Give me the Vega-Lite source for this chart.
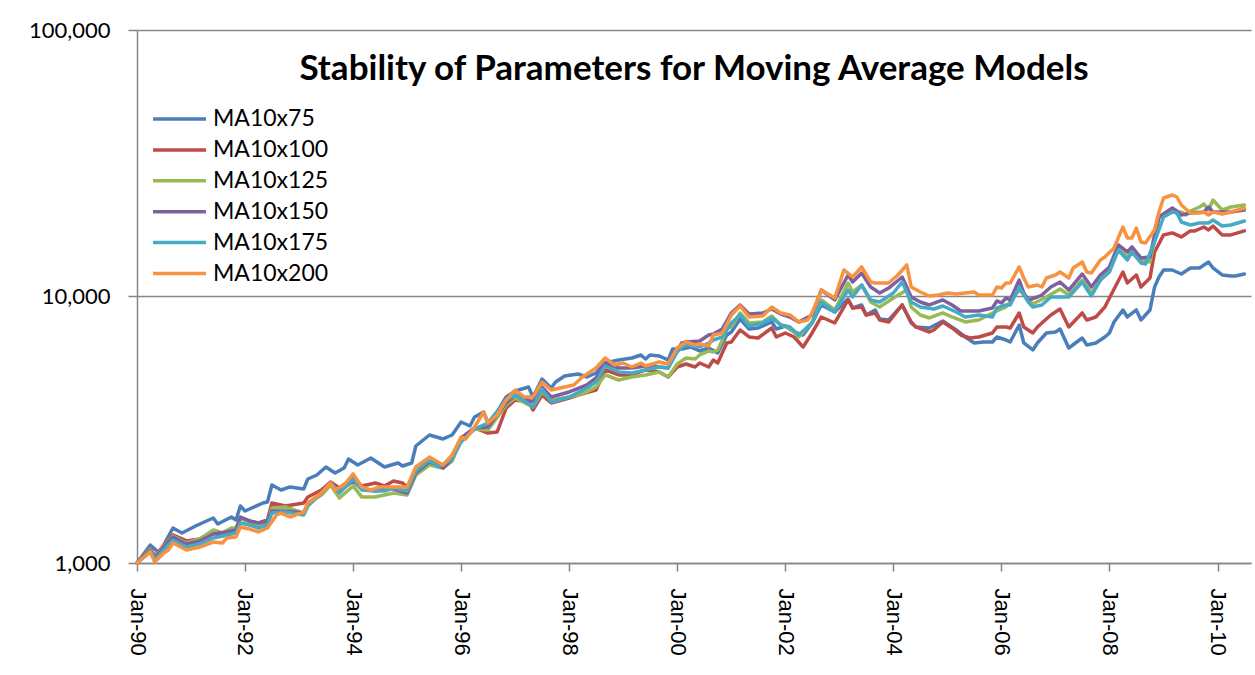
{
"$schema": "https://vega.github.io/schema/vega-lite/v6.json",
"width": 1114, "height": 533,
"autosize": {"type": "none"},
"padding": {"left": 137, "top": 30, "right": 4, "bottom": 112},
"background": "white",
"title": {"text": "Stability of Parameters for Moving Average Models", "font": "Lato", "fontSize": 35, "fontWeight": "bold", "color": "black", "anchor": "middle", "frame": "group", "offset": -96, "baseline": "alphabetic"},
"config": {"view": {"stroke": null}},
"data": {"values": [
{"s":"MA10x75","d":"1990-01","v":1000},{"s":"MA10x75","d":"1990-04","v":1168},{"s":"MA10x75","d":"1990-06","v":1090},{"s":"MA10x75","d":"1990-09","v":1353},{"s":"MA10x75","d":"1990-11","v":1296},{"s":"MA10x75","d":"1991-02","v":1377},{"s":"MA10x75","d":"1991-04","v":1425},{"s":"MA10x75","d":"1991-06","v":1475},{"s":"MA10x75","d":"1991-07","v":1401},{"s":"MA10x75","d":"1991-10","v":1488},{"s":"MA10x75","d":"1991-11","v":1450},{"s":"MA10x75","d":"1991-12","v":1636},{"s":"MA10x75","d":"1992-01","v":1567},{"s":"MA10x75","d":"1992-05","v":1679},{"s":"MA10x75","d":"1992-06","v":1694},{"s":"MA10x75","d":"1992-07","v":1962},{"s":"MA10x75","d":"1992-09","v":1879},{"s":"MA10x75","d":"1992-11","v":1929},{"s":"MA10x75","d":"1993-02","v":1896},{"s":"MA10x75","d":"1993-03","v":2066},{"s":"MA10x75","d":"1993-05","v":2139},{"s":"MA10x75","d":"1993-07","v":2292},{"s":"MA10x75","d":"1993-09","v":2176},{"s":"MA10x75","d":"1993-11","v":2272},{"s":"MA10x75","d":"1993-12","v":2455},{"s":"MA10x75","d":"1994-02","v":2332},{"s":"MA10x75","d":"1994-05","v":2477},{"s":"MA10x75","d":"1994-08","v":2292},{"s":"MA10x75","d":"1994-11","v":2372},{"s":"MA10x75","d":"1994-12","v":2312},{"s":"MA10x75","d":"1995-02","v":2372},{"s":"MA10x75","d":"1995-03","v":2748},{"s":"MA10x75","d":"1995-06","v":3022},{"s":"MA10x75","d":"1995-09","v":2920},{"s":"MA10x75","d":"1995-11","v":3022},{"s":"MA10x75","d":"1996-01","v":3381},{"s":"MA10x75","d":"1996-03","v":3267},{"s":"MA10x75","d":"1996-04","v":3530},{"s":"MA10x75","d":"1996-06","v":3687},{"s":"MA10x75","d":"1996-07","v":3352},{"s":"MA10x75","d":"1996-09","v":3687},{"s":"MA10x75","d":"1996-11","v":4197},{"s":"MA10x75","d":"1997-01","v":4420},{"s":"MA10x75","d":"1997-04","v":4575},{"s":"MA10x75","d":"1997-05","v":4197},{"s":"MA10x75","d":"1997-07","v":4903},{"s":"MA10x75","d":"1997-09","v":4536},{"s":"MA10x75","d":"1997-10","v":4777},{"s":"MA10x75","d":"1997-12","v":5032},{"s":"MA10x75","d":"1998-03","v":5120},{"s":"MA10x75","d":"1998-05","v":4989},{"s":"MA10x75","d":"1998-07","v":5164},{"s":"MA10x75","d":"1998-09","v":5630},{"s":"MA10x75","d":"1998-12","v":5778},{"s":"MA10x75","d":"1999-03","v":5879},{"s":"MA10x75","d":"1999-05","v":6034},{"s":"MA10x75","d":"1999-06","v":5828},{"s":"MA10x75","d":"1999-07","v":6034},{"s":"MA10x75","d":"1999-09","v":5982},{"s":"MA10x75","d":"1999-11","v":5778},{"s":"MA10x75","d":"1999-12","v":6354},{"s":"MA10x75","d":"2000-02","v":6354},{"s":"MA10x75","d":"2000-04","v":6465},{"s":"MA10x75","d":"2000-06","v":6245},{"s":"MA10x75","d":"2000-08","v":6409},{"s":"MA10x75","d":"2000-10","v":6138},{"s":"MA10x75","d":"2000-12","v":7172},{"s":"MA10x75","d":"2001-01","v":7359},{"s":"MA10x75","d":"2001-03","v":8234},{"s":"MA10x75","d":"2001-05","v":7553},{"s":"MA10x75","d":"2001-07","v":7619},{"s":"MA10x75","d":"2001-10","v":8024},{"s":"MA10x75","d":"2001-11","v":7553},{"s":"MA10x75","d":"2002-01","v":7752},{"s":"MA10x75","d":"2002-03","v":7359},{"s":"MA10x75","d":"2002-05","v":7172},{"s":"MA10x75","d":"2002-07","v":7955},{"s":"MA10x75","d":"2002-09","v":9294},{"s":"MA10x75","d":"2002-12","v":8748},{"s":"MA10x75","d":"2003-03","v":9786},{"s":"MA10x75","d":"2003-04","v":9056},{"s":"MA10x75","d":"2003-06","v":9294},{"s":"MA10x75","d":"2003-07","v":8524},{"s":"MA10x75","d":"2003-09","v":8901},{"s":"MA10x75","d":"2003-10","v":8234},{"s":"MA10x75","d":"2003-12","v":8164},{"s":"MA10x75","d":"2004-03","v":9294},{"s":"MA10x75","d":"2004-05","v":7955},{"s":"MA10x75","d":"2004-06","v":7685},{"s":"MA10x75","d":"2004-09","v":7619},{"s":"MA10x75","d":"2004-12","v":8094},{"s":"MA10x75","d":"2005-03","v":7488},{"s":"MA10x75","d":"2005-05","v":7049},{"s":"MA10x75","d":"2005-07","v":6692},{"s":"MA10x75","d":"2005-09","v":6750},{"s":"MA10x75","d":"2005-11","v":6750},{"s":"MA10x75","d":"2005-12","v":7049},{"s":"MA10x75","d":"2006-02","v":6868},{"s":"MA10x75","d":"2006-03","v":6750},{"s":"MA10x75","d":"2006-05","v":7819},{"s":"MA10x75","d":"2006-06","v":6692},{"s":"MA10x75","d":"2006-08","v":6300},{"s":"MA10x75","d":"2006-09","v":6692},{"s":"MA10x75","d":"2006-11","v":7296},{"s":"MA10x75","d":"2007-01","v":7359},{"s":"MA10x75","d":"2007-02","v":7553},{"s":"MA10x75","d":"2007-04","v":6409},{"s":"MA10x75","d":"2007-07","v":6988},{"s":"MA10x75","d":"2007-08","v":6578},{"s":"MA10x75","d":"2007-10","v":6692},{"s":"MA10x75","d":"2007-12","v":7049},{"s":"MA10x75","d":"2008-01","v":7296},{"s":"MA10x75","d":"2008-02","v":8024},{"s":"MA10x75","d":"2008-04","v":8901},{"s":"MA10x75","d":"2008-05","v":8378},{"s":"MA10x75","d":"2008-07","v":8901},{"s":"MA10x75","d":"2008-08","v":8164},{"s":"MA10x75","d":"2008-10","v":8901},{"s":"MA10x75","d":"2008-11","v":10854},{"s":"MA10x75","d":"2008-12","v":11836},{"s":"MA10x75","d":"2009-01","v":12575},{"s":"MA10x75","d":"2009-03","v":12575},{"s":"MA10x75","d":"2009-05","v":12147},{"s":"MA10x75","d":"2009-07","v":12795},{"s":"MA10x75","d":"2009-09","v":12795},{"s":"MA10x75","d":"2009-10","v":13131},{"s":"MA10x75","d":"2009-11","v":13477},{"s":"MA10x75","d":"2009-12","v":12795},{"s":"MA10x75","d":"2010-02","v":12043},{"s":"MA10x75","d":"2010-04","v":11937},{"s":"MA10x75","d":"2010-05","v":11937},{"s":"MA10x75","d":"2010-07","v":12147},
{"s":"MA10x100","d":"1990-01","v":1000},{"s":"MA10x100","d":"1990-04","v":1138},{"s":"MA10x100","d":"1990-05","v":1062},{"s":"MA10x100","d":"1990-09","v":1274},{"s":"MA10x100","d":"1990-12","v":1210},{"s":"MA10x100","d":"1991-03","v":1231},{"s":"MA10x100","d":"1991-06","v":1296},{"s":"MA10x100","d":"1991-08","v":1263},{"s":"MA10x100","d":"1991-10","v":1330},{"s":"MA10x100","d":"1991-11","v":1330},{"s":"MA10x100","d":"1991-12","v":1475},{"s":"MA10x100","d":"1992-02","v":1438},{"s":"MA10x100","d":"1992-04","v":1413},{"s":"MA10x100","d":"1992-06","v":1450},{"s":"MA10x100","d":"1992-07","v":1679},{"s":"MA10x100","d":"1992-10","v":1636},{"s":"MA10x100","d":"1993-02","v":1679},{"s":"MA10x100","d":"1993-03","v":1768},{"s":"MA10x100","d":"1993-06","v":1879},{"s":"MA10x100","d":"1993-08","v":2013},{"s":"MA10x100","d":"1993-10","v":1912},{"s":"MA10x100","d":"1994-01","v":2084},{"s":"MA10x100","d":"1994-03","v":1946},{"s":"MA10x100","d":"1994-06","v":1996},{"s":"MA10x100","d":"1994-08","v":1946},{"s":"MA10x100","d":"1994-10","v":2031},{"s":"MA10x100","d":"1994-12","v":1996},{"s":"MA10x100","d":"1995-01","v":1929},{"s":"MA10x100","d":"1995-03","v":2233},{"s":"MA10x100","d":"1995-06","v":2455},{"s":"MA10x100","d":"1995-09","v":2312},{"s":"MA10x100","d":"1995-11","v":2498},{"s":"MA10x100","d":"1996-01","v":2920},{"s":"MA10x100","d":"1996-04","v":3211},{"s":"MA10x100","d":"1996-07","v":3075},{"s":"MA10x100","d":"1996-09","v":3102},{"s":"MA10x100","d":"1996-11","v":3816},{"s":"MA10x100","d":"1997-01","v":4090},{"s":"MA10x100","d":"1997-04","v":4020},{"s":"MA10x100","d":"1997-05","v":3751},{"s":"MA10x100","d":"1997-07","v":4270},{"s":"MA10x100","d":"1997-09","v":3985},{"s":"MA10x100","d":"1998-01","v":4161},{"s":"MA10x100","d":"1998-03","v":4270},{"s":"MA10x100","d":"1998-07","v":4458},{"s":"MA10x100","d":"1998-09","v":5300},{"s":"MA10x100","d":"1998-12","v":5076},{"s":"MA10x100","d":"1999-03","v":5076},{"s":"MA10x100","d":"1999-06","v":5300},{"s":"MA10x100","d":"1999-09","v":5209},{"s":"MA10x100","d":"1999-11","v":4989},{"s":"MA10x100","d":"2000-01","v":5439},{"s":"MA10x100","d":"2000-03","v":5582},{"s":"MA10x100","d":"2000-05","v":5439},{"s":"MA10x100","d":"2000-06","v":5630},{"s":"MA10x100","d":"2000-08","v":5439},{"s":"MA10x100","d":"2000-09","v":5778},{"s":"MA10x100","d":"2000-10","v":5630},{"s":"MA10x100","d":"2000-12","v":6692},{"s":"MA10x100","d":"2001-01","v":6750},{"s":"MA10x100","d":"2001-03","v":7488},{"s":"MA10x100","d":"2001-05","v":7049},{"s":"MA10x100","d":"2001-07","v":6988},{"s":"MA10x100","d":"2001-10","v":7619},{"s":"MA10x100","d":"2001-11","v":7049},{"s":"MA10x100","d":"2002-01","v":7296},{"s":"MA10x100","d":"2002-03","v":7049},{"s":"MA10x100","d":"2002-05","v":6465},{"s":"MA10x100","d":"2002-07","v":7296},{"s":"MA10x100","d":"2002-09","v":8378},{"s":"MA10x100","d":"2002-12","v":7955},{"s":"MA10x100","d":"2003-03","v":9705},{"s":"MA10x100","d":"2003-04","v":9056},{"s":"MA10x100","d":"2003-06","v":9135},{"s":"MA10x100","d":"2003-07","v":8524},{"s":"MA10x100","d":"2003-09","v":8673},{"s":"MA10x100","d":"2003-10","v":8164},{"s":"MA10x100","d":"2003-12","v":8024},{"s":"MA10x100","d":"2004-03","v":9294},{"s":"MA10x100","d":"2004-05","v":8024},{"s":"MA10x100","d":"2004-06","v":7685},{"s":"MA10x100","d":"2004-09","v":7359},{"s":"MA10x100","d":"2004-10","v":7488},{"s":"MA10x100","d":"2004-12","v":8024},{"s":"MA10x100","d":"2005-02","v":7619},{"s":"MA10x100","d":"2005-04","v":7172},{"s":"MA10x100","d":"2005-06","v":6988},{"s":"MA10x100","d":"2005-08","v":7049},{"s":"MA10x100","d":"2005-11","v":7296},{"s":"MA10x100","d":"2005-12","v":7685},{"s":"MA10x100","d":"2006-02","v":7685},{"s":"MA10x100","d":"2006-03","v":7619},{"s":"MA10x100","d":"2006-05","v":8673},{"s":"MA10x100","d":"2006-06","v":7685},{"s":"MA10x100","d":"2006-08","v":7296},{"s":"MA10x100","d":"2006-09","v":7685},{"s":"MA10x100","d":"2006-12","v":8524},{"s":"MA10x100","d":"2007-02","v":8978},{"s":"MA10x100","d":"2007-04","v":7685},{"s":"MA10x100","d":"2007-07","v":8673},{"s":"MA10x100","d":"2007-08","v":8164},{"s":"MA10x100","d":"2007-10","v":8378},{"s":"MA10x100","d":"2007-12","v":9135},{"s":"MA10x100","d":"2008-01","v":9871},{"s":"MA10x100","d":"2008-04","v":12359},{"s":"MA10x100","d":"2008-05","v":11237},{"s":"MA10x100","d":"2008-07","v":12043},{"s":"MA10x100","d":"2008-08","v":10854},{"s":"MA10x100","d":"2008-10","v":11734},{"s":"MA10x100","d":"2008-11","v":14695},{"s":"MA10x100","d":"2009-01","v":17024},{"s":"MA10x100","d":"2009-03","v":17322},{"s":"MA10x100","d":"2009-05","v":16732},{"s":"MA10x100","d":"2009-07","v":17625},{"s":"MA10x100","d":"2009-08","v":17625},{"s":"MA10x100","d":"2009-10","v":18229},{"s":"MA10x100","d":"2009-11","v":17777},{"s":"MA10x100","d":"2009-12","v":18386},{"s":"MA10x100","d":"2010-02","v":17024},{"s":"MA10x100","d":"2010-04","v":17024},{"s":"MA10x100","d":"2010-07","v":17625},
{"s":"MA10x125","d":"1990-01","v":1000},{"s":"MA10x125","d":"1990-04","v":1128},{"s":"MA10x125","d":"1990-05","v":1053},{"s":"MA10x125","d":"1990-09","v":1263},{"s":"MA10x125","d":"1990-12","v":1189},{"s":"MA10x125","d":"1991-03","v":1231},{"s":"MA10x125","d":"1991-06","v":1330},{"s":"MA10x125","d":"1991-08","v":1296},{"s":"MA10x125","d":"1991-10","v":1353},{"s":"MA10x125","d":"1991-11","v":1353},{"s":"MA10x125","d":"1991-12","v":1475},{"s":"MA10x125","d":"1992-02","v":1413},{"s":"MA10x125","d":"1992-04","v":1389},{"s":"MA10x125","d":"1992-06","v":1413},{"s":"MA10x125","d":"1992-07","v":1608},{"s":"MA10x125","d":"1992-10","v":1622},{"s":"MA10x125","d":"1993-02","v":1540},{"s":"MA10x125","d":"1993-03","v":1679},{"s":"MA10x125","d":"1993-06","v":1799},{"s":"MA10x125","d":"1993-08","v":1962},{"s":"MA10x125","d":"1993-10","v":1753},{"s":"MA10x125","d":"1994-01","v":1946},{"s":"MA10x125","d":"1994-03","v":1768},{"s":"MA10x125","d":"1994-06","v":1768},{"s":"MA10x125","d":"1994-08","v":1799},{"s":"MA10x125","d":"1994-10","v":1831},{"s":"MA10x125","d":"1995-01","v":1799},{"s":"MA10x125","d":"1995-03","v":2139},{"s":"MA10x125","d":"1995-06","v":2332},{"s":"MA10x125","d":"1995-09","v":2272},{"s":"MA10x125","d":"1995-11","v":2414},{"s":"MA10x125","d":"1996-01","v":2920},{"s":"MA10x125","d":"1996-04","v":3183},{"s":"MA10x125","d":"1996-07","v":3155},{"s":"MA10x125","d":"1996-11","v":3916},{"s":"MA10x125","d":"1997-01","v":4161},{"s":"MA10x125","d":"1997-05","v":3849},{"s":"MA10x125","d":"1997-07","v":4382},{"s":"MA10x125","d":"1997-09","v":4090},{"s":"MA10x125","d":"1998-01","v":4197},{"s":"MA10x125","d":"1998-05","v":4382},{"s":"MA10x125","d":"1998-07","v":4575},{"s":"MA10x125","d":"1998-09","v":5076},{"s":"MA10x125","d":"1998-12","v":4861},{"s":"MA10x125","d":"1999-03","v":4989},{"s":"MA10x125","d":"1999-06","v":5076},{"s":"MA10x125","d":"1999-09","v":5209},{"s":"MA10x125","d":"1999-11","v":4989},{"s":"MA10x125","d":"2000-01","v":5582},{"s":"MA10x125","d":"2000-03","v":5879},{"s":"MA10x125","d":"2000-05","v":5828},{"s":"MA10x125","d":"2000-06","v":6034},{"s":"MA10x125","d":"2000-08","v":6245},{"s":"MA10x125","d":"2000-09","v":6191},{"s":"MA10x125","d":"2000-10","v":6300},{"s":"MA10x125","d":"2000-11","v":6868},{"s":"MA10x125","d":"2000-12","v":7619},{"s":"MA10x125","d":"2001-01","v":7685},{"s":"MA10x125","d":"2001-03","v":8673},{"s":"MA10x125","d":"2001-05","v":7955},{"s":"MA10x125","d":"2001-08","v":8024},{"s":"MA10x125","d":"2001-10","v":8451},{"s":"MA10x125","d":"2001-12","v":7819},{"s":"MA10x125","d":"2002-02","v":7619},{"s":"MA10x125","d":"2002-04","v":7049},{"s":"MA10x125","d":"2002-07","v":8024},{"s":"MA10x125","d":"2002-09","v":9705},{"s":"MA10x125","d":"2002-12","v":8901},{"s":"MA10x125","d":"2003-03","v":11237},{"s":"MA10x125","d":"2003-04","v":10397},{"s":"MA10x125","d":"2003-06","v":11043},{"s":"MA10x125","d":"2003-08","v":9538},{"s":"MA10x125","d":"2003-10","v":9135},{"s":"MA10x125","d":"2004-01","v":9871},{"s":"MA10x125","d":"2004-04","v":10575},{"s":"MA10x125","d":"2004-05","v":9135},{"s":"MA10x125","d":"2004-07","v":8524},{"s":"MA10x125","d":"2004-09","v":8306},{"s":"MA10x125","d":"2004-12","v":8673},{"s":"MA10x125","d":"2005-02","v":8378},{"s":"MA10x125","d":"2005-05","v":8024},{"s":"MA10x125","d":"2005-08","v":8164},{"s":"MA10x125","d":"2005-11","v":8673},{"s":"MA10x125","d":"2006-02","v":9135},{"s":"MA10x125","d":"2006-05","v":10575},{"s":"MA10x125","d":"2006-08","v":9375},{"s":"MA10x125","d":"2006-11","v":9957},{"s":"MA10x125","d":"2007-02","v":10667},{"s":"MA10x125","d":"2007-04","v":10131},{"s":"MA10x125","d":"2007-07","v":11533},{"s":"MA10x125","d":"2007-09","v":10307},{"s":"MA10x125","d":"2007-11","v":11533},{"s":"MA10x125","d":"2008-01","v":12575},{"s":"MA10x125","d":"2008-03","v":15213},{"s":"MA10x125","d":"2008-05","v":14072},{"s":"MA10x125","d":"2008-06","v":15213},{"s":"MA10x125","d":"2008-08","v":13712},{"s":"MA10x125","d":"2008-10","v":13477},{"s":"MA10x125","d":"2008-11","v":16303},{"s":"MA10x125","d":"2008-12","v":19705},{"s":"MA10x125","d":"2009-03","v":20753},{"s":"MA10x125","d":"2009-05","v":20753},{"s":"MA10x125","d":"2009-06","v":20220},{"s":"MA10x125","d":"2009-07","v":20934},{"s":"MA10x125","d":"2009-09","v":21669},{"s":"MA10x125","d":"2009-10","v":22238},{"s":"MA10x125","d":"2009-11","v":21115},{"s":"MA10x125","d":"2009-12","v":23021},{"s":"MA10x125","d":"2010-02","v":21115},{"s":"MA10x125","d":"2010-04","v":21669},{"s":"MA10x125","d":"2010-07","v":22047},
{"s":"MA10x150","d":"1990-01","v":1000},{"s":"MA10x150","d":"1990-04","v":1119},{"s":"MA10x150","d":"1990-05","v":1044},{"s":"MA10x150","d":"1990-09","v":1252},{"s":"MA10x150","d":"1990-12","v":1179},{"s":"MA10x150","d":"1991-03","v":1210},{"s":"MA10x150","d":"1991-06","v":1285},{"s":"MA10x150","d":"1991-10","v":1318},{"s":"MA10x150","d":"1991-11","v":1330},{"s":"MA10x150","d":"1991-12","v":1488},{"s":"MA10x150","d":"1992-02","v":1438},{"s":"MA10x150","d":"1992-04","v":1413},{"s":"MA10x150","d":"1992-06","v":1438},{"s":"MA10x150","d":"1992-07","v":1567},{"s":"MA10x150","d":"1992-10","v":1567},{"s":"MA10x150","d":"1993-02","v":1540},{"s":"MA10x150","d":"1993-03","v":1650},{"s":"MA10x150","d":"1993-06","v":1831},{"s":"MA10x150","d":"1993-08","v":1996},{"s":"MA10x150","d":"1993-10","v":1863},{"s":"MA10x150","d":"1994-01","v":2031},{"s":"MA10x150","d":"1994-03","v":1896},{"s":"MA10x150","d":"1994-06","v":1863},{"s":"MA10x150","d":"1994-08","v":1912},{"s":"MA10x150","d":"1994-10","v":1896},{"s":"MA10x150","d":"1995-01","v":1831},{"s":"MA10x150","d":"1995-03","v":2176},{"s":"MA10x150","d":"1995-06","v":2393},{"s":"MA10x150","d":"1995-09","v":2272},{"s":"MA10x150","d":"1995-11","v":2455},{"s":"MA10x150","d":"1996-01","v":2945},{"s":"MA10x150","d":"1996-04","v":3211},{"s":"MA10x150","d":"1996-07","v":3239},{"s":"MA10x150","d":"1996-11","v":3985},{"s":"MA10x150","d":"1997-01","v":4270},{"s":"MA10x150","d":"1997-05","v":4020},{"s":"MA10x150","d":"1997-07","v":4575},{"s":"MA10x150","d":"1997-09","v":4197},{"s":"MA10x150","d":"1998-01","v":4382},{"s":"MA10x150","d":"1998-05","v":4655},{"s":"MA10x150","d":"1998-07","v":4946},{"s":"MA10x150","d":"1998-09","v":5630},{"s":"MA10x150","d":"1998-12","v":5392},{"s":"MA10x150","d":"1999-03","v":5392},{"s":"MA10x150","d":"1999-06","v":5486},{"s":"MA10x150","d":"1999-09","v":5439},{"s":"MA10x150","d":"1999-11","v":5392},{"s":"MA10x150","d":"2000-01","v":6300},{"s":"MA10x150","d":"2000-02","v":6692},{"s":"MA10x150","d":"2000-03","v":6750},{"s":"MA10x150","d":"2000-06","v":6809},{"s":"MA10x150","d":"2000-08","v":7172},{"s":"MA10x150","d":"2000-09","v":7233},{"s":"MA10x150","d":"2000-11","v":7553},{"s":"MA10x150","d":"2001-01","v":8673},{"s":"MA10x150","d":"2001-03","v":9294},{"s":"MA10x150","d":"2001-05","v":8598},{"s":"MA10x150","d":"2001-08","v":8673},{"s":"MA10x150","d":"2001-10","v":8978},{"s":"MA10x150","d":"2001-12","v":8598},{"s":"MA10x150","d":"2002-02","v":8378},{"s":"MA10x150","d":"2002-04","v":8024},{"s":"MA10x150","d":"2002-07","v":8524},{"s":"MA10x150","d":"2002-09","v":10575},{"s":"MA10x150","d":"2002-12","v":9705},{"s":"MA10x150","d":"2003-03","v":12043},{"s":"MA10x150","d":"2003-04","v":11335},{"s":"MA10x150","d":"2003-06","v":12253},{"s":"MA10x150","d":"2003-08","v":10854},{"s":"MA10x150","d":"2003-10","v":10307},{"s":"MA10x150","d":"2003-12","v":10760},{"s":"MA10x150","d":"2004-03","v":11836},{"s":"MA10x150","d":"2004-05","v":9957},{"s":"MA10x150","d":"2004-07","v":9538},{"s":"MA10x150","d":"2004-09","v":9294},{"s":"MA10x150","d":"2004-12","v":9705},{"s":"MA10x150","d":"2005-02","v":9294},{"s":"MA10x150","d":"2005-04","v":8825},{"s":"MA10x150","d":"2005-06","v":8825},{"s":"MA10x150","d":"2005-08","v":8825},{"s":"MA10x150","d":"2005-11","v":9056},{"s":"MA10x150","d":"2005-12","v":9621},{"s":"MA10x150","d":"2006-01","v":9456},{"s":"MA10x150","d":"2006-02","v":9871},{"s":"MA10x150","d":"2006-03","v":9705},{"s":"MA10x150","d":"2006-05","v":11533},{"s":"MA10x150","d":"2006-06","v":10307},{"s":"MA10x150","d":"2006-07","v":9705},{"s":"MA10x150","d":"2006-09","v":9957},{"s":"MA10x150","d":"2006-10","v":10131},{"s":"MA10x150","d":"2006-12","v":10854},{"s":"MA10x150","d":"2007-02","v":11335},{"s":"MA10x150","d":"2007-04","v":10575},{"s":"MA10x150","d":"2007-07","v":12147},{"s":"MA10x150","d":"2007-09","v":10854},{"s":"MA10x150","d":"2007-11","v":12043},{"s":"MA10x150","d":"2008-01","v":12906},{"s":"MA10x150","d":"2008-03","v":15613},{"s":"MA10x150","d":"2008-05","v":14695},{"s":"MA10x150","d":"2008-06","v":15345},{"s":"MA10x150","d":"2008-08","v":13951},{"s":"MA10x150","d":"2008-10","v":14072},{"s":"MA10x150","d":"2008-11","v":17024},{"s":"MA10x150","d":"2008-12","v":19876},{"s":"MA10x150","d":"2009-03","v":21482},{"s":"MA10x150","d":"2009-04","v":20934},{"s":"MA10x150","d":"2009-05","v":20220},{"s":"MA10x150","d":"2009-07","v":20574},{"s":"MA10x150","d":"2009-10","v":20753},{"s":"MA10x150","d":"2009-11","v":21669},{"s":"MA10x150","d":"2009-12","v":20753},{"s":"MA10x150","d":"2010-04","v":20753},{"s":"MA10x150","d":"2010-07","v":21115},
{"s":"MA10x175","d":"1990-01","v":1000},{"s":"MA10x175","d":"1990-04","v":1109},{"s":"MA10x175","d":"1990-05","v":1026},{"s":"MA10x175","d":"1990-09","v":1220},{"s":"MA10x175","d":"1990-12","v":1148},{"s":"MA10x175","d":"1991-03","v":1179},{"s":"MA10x175","d":"1991-06","v":1241},{"s":"MA10x175","d":"1991-10","v":1285},{"s":"MA10x175","d":"1991-11","v":1296},{"s":"MA10x175","d":"1991-12","v":1413},{"s":"MA10x175","d":"1992-02","v":1389},{"s":"MA10x175","d":"1992-04","v":1353},{"s":"MA10x175","d":"1992-06","v":1389},{"s":"MA10x175","d":"1992-07","v":1540},{"s":"MA10x175","d":"1992-10","v":1553},{"s":"MA10x175","d":"1993-02","v":1514},{"s":"MA10x175","d":"1993-03","v":1636},{"s":"MA10x175","d":"1993-06","v":1831},{"s":"MA10x175","d":"1993-08","v":1996},{"s":"MA10x175","d":"1993-10","v":1831},{"s":"MA10x175","d":"1994-01","v":2066},{"s":"MA10x175","d":"1994-03","v":1879},{"s":"MA10x175","d":"1994-06","v":1863},{"s":"MA10x175","d":"1994-08","v":1863},{"s":"MA10x175","d":"1994-10","v":1912},{"s":"MA10x175","d":"1995-01","v":1863},{"s":"MA10x175","d":"1995-03","v":2214},{"s":"MA10x175","d":"1995-06","v":2434},{"s":"MA10x175","d":"1995-08","v":2292},{"s":"MA10x175","d":"1995-11","v":2455},{"s":"MA10x175","d":"1996-01","v":2845},{"s":"MA10x175","d":"1996-04","v":3183},{"s":"MA10x175","d":"1996-07","v":3352},{"s":"MA10x175","d":"1996-11","v":4090},{"s":"MA10x175","d":"1997-01","v":4270},{"s":"MA10x175","d":"1997-05","v":3849},{"s":"MA10x175","d":"1997-07","v":4497},{"s":"MA10x175","d":"1997-09","v":4020},{"s":"MA10x175","d":"1998-01","v":4197},{"s":"MA10x175","d":"1998-05","v":4536},{"s":"MA10x175","d":"1998-07","v":4777},{"s":"MA10x175","d":"1998-09","v":5486},{"s":"MA10x175","d":"1998-12","v":5209},{"s":"MA10x175","d":"1999-03","v":5164},{"s":"MA10x175","d":"1999-06","v":5300},{"s":"MA10x175","d":"1999-09","v":5439},{"s":"MA10x175","d":"1999-11","v":5392},{"s":"MA10x175","d":"2000-01","v":6191},{"s":"MA10x175","d":"2000-02","v":6465},{"s":"MA10x175","d":"2000-03","v":6578},{"s":"MA10x175","d":"2000-06","v":6465},{"s":"MA10x175","d":"2000-08","v":6692},{"s":"MA10x175","d":"2000-09","v":6868},{"s":"MA10x175","d":"2000-11","v":7049},{"s":"MA10x175","d":"2001-01","v":7955},{"s":"MA10x175","d":"2001-03","v":8524},{"s":"MA10x175","d":"2001-05","v":7752},{"s":"MA10x175","d":"2001-08","v":7955},{"s":"MA10x175","d":"2001-10","v":8306},{"s":"MA10x175","d":"2001-12","v":7819},{"s":"MA10x175","d":"2002-02","v":7685},{"s":"MA10x175","d":"2002-04","v":7172},{"s":"MA10x175","d":"2002-07","v":7955},{"s":"MA10x175","d":"2002-09","v":9538},{"s":"MA10x175","d":"2002-12","v":8748},{"s":"MA10x175","d":"2003-03","v":10575},{"s":"MA10x175","d":"2003-04","v":9957},{"s":"MA10x175","d":"2003-06","v":11043},{"s":"MA10x175","d":"2003-08","v":9705},{"s":"MA10x175","d":"2003-10","v":9538},{"s":"MA10x175","d":"2004-01","v":10307},{"s":"MA10x175","d":"2004-03","v":11335},{"s":"MA10x175","d":"2004-05","v":9538},{"s":"MA10x175","d":"2004-07","v":9135},{"s":"MA10x175","d":"2004-10","v":8978},{"s":"MA10x175","d":"2004-12","v":9214},{"s":"MA10x175","d":"2005-03","v":8748},{"s":"MA10x175","d":"2005-05","v":8378},{"s":"MA10x175","d":"2005-08","v":8524},{"s":"MA10x175","d":"2005-11","v":8378},{"s":"MA10x175","d":"2005-12","v":9056},{"s":"MA10x175","d":"2006-02","v":9294},{"s":"MA10x175","d":"2006-03","v":9294},{"s":"MA10x175","d":"2006-05","v":10854},{"s":"MA10x175","d":"2006-07","v":9538},{"s":"MA10x175","d":"2006-08","v":9135},{"s":"MA10x175","d":"2006-10","v":9294},{"s":"MA10x175","d":"2006-12","v":9957},{"s":"MA10x175","d":"2007-04","v":9957},{"s":"MA10x175","d":"2007-07","v":11335},{"s":"MA10x175","d":"2007-09","v":10044},{"s":"MA10x175","d":"2007-11","v":11533},{"s":"MA10x175","d":"2008-01","v":12359},{"s":"MA10x175","d":"2008-03","v":14951},{"s":"MA10x175","d":"2008-05","v":13712},{"s":"MA10x175","d":"2008-06","v":14695},{"s":"MA10x175","d":"2008-08","v":13361},{"s":"MA10x175","d":"2008-09","v":13245},{"s":"MA10x175","d":"2008-11","v":16024},{"s":"MA10x175","d":"2009-01","v":19876},{"s":"MA10x175","d":"2009-03","v":20753},{"s":"MA10x175","d":"2009-04","v":20574},{"s":"MA10x175","d":"2009-05","v":19035},{"s":"MA10x175","d":"2009-07","v":18548},{"s":"MA10x175","d":"2009-09","v":18873},{"s":"MA10x175","d":"2009-11","v":18873},{"s":"MA10x175","d":"2009-12","v":19366},{"s":"MA10x175","d":"2010-02","v":18386},{"s":"MA10x175","d":"2010-04","v":18548},{"s":"MA10x175","d":"2010-07","v":19200},
{"s":"MA10x200","d":"1990-01","v":1000},{"s":"MA10x200","d":"1990-04","v":1099},{"s":"MA10x200","d":"1990-05","v":1009},{"s":"MA10x200","d":"1990-07","v":1090},{"s":"MA10x200","d":"1990-08","v":1119},{"s":"MA10x200","d":"1990-09","v":1189},{"s":"MA10x200","d":"1990-12","v":1119},{"s":"MA10x200","d":"1991-03","v":1148},{"s":"MA10x200","d":"1991-06","v":1199},{"s":"MA10x200","d":"1991-08","v":1189},{"s":"MA10x200","d":"1991-09","v":1241},{"s":"MA10x200","d":"1991-11","v":1252},{"s":"MA10x200","d":"1991-12","v":1365},{"s":"MA10x200","d":"1992-02","v":1341},{"s":"MA10x200","d":"1992-04","v":1307},{"s":"MA10x200","d":"1992-06","v":1353},{"s":"MA10x200","d":"1992-08","v":1514},{"s":"MA10x200","d":"1992-09","v":1540},{"s":"MA10x200","d":"1992-11","v":1488},{"s":"MA10x200","d":"1993-02","v":1553},{"s":"MA10x200","d":"1993-03","v":1679},{"s":"MA10x200","d":"1993-06","v":1831},{"s":"MA10x200","d":"1993-08","v":1996},{"s":"MA10x200","d":"1993-09","v":1879},{"s":"MA10x200","d":"1993-11","v":1962},{"s":"MA10x200","d":"1994-01","v":2158},{"s":"MA10x200","d":"1994-03","v":1929},{"s":"MA10x200","d":"1994-05","v":1879},{"s":"MA10x200","d":"1994-07","v":1929},{"s":"MA10x200","d":"1994-09","v":1929},{"s":"MA10x200","d":"1995-01","v":1929},{"s":"MA10x200","d":"1995-03","v":2292},{"s":"MA10x200","d":"1995-06","v":2498},{"s":"MA10x200","d":"1995-09","v":2332},{"s":"MA10x200","d":"1995-11","v":2542},{"s":"MA10x200","d":"1996-01","v":2971},{"s":"MA10x200","d":"1996-02","v":2920},{"s":"MA10x200","d":"1996-04","v":3239},{"s":"MA10x200","d":"1996-06","v":3687},{"s":"MA10x200","d":"1996-07","v":3352},{"s":"MA10x200","d":"1996-09","v":3592},{"s":"MA10x200","d":"1996-11","v":4090},{"s":"MA10x200","d":"1997-01","v":4458},{"s":"MA10x200","d":"1997-03","v":4197},{"s":"MA10x200","d":"1997-05","v":4197},{"s":"MA10x200","d":"1997-07","v":4777},{"s":"MA10x200","d":"1997-09","v":4458},{"s":"MA10x200","d":"1997-11","v":4536},{"s":"MA10x200","d":"1998-02","v":4655},{"s":"MA10x200","d":"1998-04","v":4989},{"s":"MA10x200","d":"1998-07","v":5392},{"s":"MA10x200","d":"1998-09","v":5879},{"s":"MA10x200","d":"1998-11","v":5534},{"s":"MA10x200","d":"1999-01","v":5630},{"s":"MA10x200","d":"1999-03","v":5439},{"s":"MA10x200","d":"1999-05","v":5630},{"s":"MA10x200","d":"1999-06","v":5486},{"s":"MA10x200","d":"1999-09","v":5679},{"s":"MA10x200","d":"1999-11","v":5582},{"s":"MA10x200","d":"2000-01","v":6409},{"s":"MA10x200","d":"2000-03","v":6750},{"s":"MA10x200","d":"2000-05","v":6578},{"s":"MA10x200","d":"2000-06","v":6634},{"s":"MA10x200","d":"2000-08","v":6521},{"s":"MA10x200","d":"2000-09","v":7172},{"s":"MA10x200","d":"2000-11","v":7296},{"s":"MA10x200","d":"2001-01","v":8524},{"s":"MA10x200","d":"2001-03","v":9214},{"s":"MA10x200","d":"2001-05","v":8378},{"s":"MA10x200","d":"2001-08","v":8451},{"s":"MA10x200","d":"2001-10","v":9135},{"s":"MA10x200","d":"2001-12","v":8673},{"s":"MA10x200","d":"2002-02","v":8524},{"s":"MA10x200","d":"2002-04","v":8024},{"s":"MA10x200","d":"2002-06","v":8164},{"s":"MA10x200","d":"2002-07","v":8673},{"s":"MA10x200","d":"2002-09","v":10575},{"s":"MA10x200","d":"2002-12","v":9871},{"s":"MA10x200","d":"2003-02","v":12575},{"s":"MA10x200","d":"2003-04","v":11836},{"s":"MA10x200","d":"2003-06","v":12906},{"s":"MA10x200","d":"2003-08","v":11335},{"s":"MA10x200","d":"2003-09","v":11237},{"s":"MA10x200","d":"2003-12","v":11237},{"s":"MA10x200","d":"2004-02","v":12043},{"s":"MA10x200","d":"2004-04","v":13131},{"s":"MA10x200","d":"2004-05","v":10854},{"s":"MA10x200","d":"2004-07","v":10397},{"s":"MA10x200","d":"2004-09","v":10044},{"s":"MA10x200","d":"2004-11","v":10131},{"s":"MA10x200","d":"2005-01","v":10307},{"s":"MA10x200","d":"2005-03","v":10218},{"s":"MA10x200","d":"2005-05","v":10307},{"s":"MA10x200","d":"2005-07","v":10397},{"s":"MA10x200","d":"2005-08","v":10131},{"s":"MA10x200","d":"2005-11","v":10131},{"s":"MA10x200","d":"2005-12","v":10854},{"s":"MA10x200","d":"2006-01","v":10760},{"s":"MA10x200","d":"2006-02","v":11237},{"s":"MA10x200","d":"2006-03","v":11237},{"s":"MA10x200","d":"2006-05","v":12906},{"s":"MA10x200","d":"2006-06","v":11734},{"s":"MA10x200","d":"2006-07","v":10854},{"s":"MA10x200","d":"2006-09","v":11043},{"s":"MA10x200","d":"2006-10","v":10854},{"s":"MA10x200","d":"2006-11","v":11734},{"s":"MA10x200","d":"2007-01","v":12043},{"s":"MA10x200","d":"2007-02","v":12359},{"s":"MA10x200","d":"2007-04","v":11734},{"s":"MA10x200","d":"2007-05","v":12795},{"s":"MA10x200","d":"2007-07","v":13477},{"s":"MA10x200","d":"2007-08","v":12359},{"s":"MA10x200","d":"2007-09","v":12253},{"s":"MA10x200","d":"2007-11","v":13712},{"s":"MA10x200","d":"2007-12","v":14072},{"s":"MA10x200","d":"2008-02","v":15213},{"s":"MA10x200","d":"2008-04","v":18229},{"s":"MA10x200","d":"2008-05","v":16588},{"s":"MA10x200","d":"2008-06","v":16588},{"s":"MA10x200","d":"2008-07","v":18072},{"s":"MA10x200","d":"2008-08","v":16024},{"s":"MA10x200","d":"2008-09","v":15886},{"s":"MA10x200","d":"2008-11","v":17770},{"s":"MA10x200","d":"2008-12","v":20753},{"s":"MA10x200","d":"2009-01","v":23424},{"s":"MA10x200","d":"2009-03","v":24040},{"s":"MA10x200","d":"2009-04","v":23628},{"s":"MA10x200","d":"2009-05","v":22047},{"s":"MA10x200","d":"2009-07","v":20574},{"s":"MA10x200","d":"2009-09","v":20574},{"s":"MA10x200","d":"2009-10","v":20753},{"s":"MA10x200","d":"2009-11","v":20220},{"s":"MA10x200","d":"2009-12","v":20753},{"s":"MA10x200","d":"2010-02","v":20396},{"s":"MA10x200","d":"2010-04","v":20753},{"s":"MA10x200","d":"2010-07","v":21482}
]},
"mark": {"type": "line", "strokeWidth": 3.5, "strokeJoin": "round", "strokeCap": "round"},
"encoding": {
 "x": {"field": "d", "type": "temporal",
  "scale": {"type": "utc", "domain": [{"year": 1990, "month": 1, "date": 1, "utc": true}, {"year": 2010, "month": 8, "date": 15, "utc": true}]},
  "axis": {"title": null, "format": "%b-%y", "labelAngle": 90, "labelAlign": "left", "labelBaseline": "middle",
   "values": [{"year":1990,"month":1,"date":1,"utc":true},{"year":1992,"month":1,"date":1,"utc":true},{"year":1994,"month":1,"date":1,"utc":true},{"year":1996,"month":1,"date":1,"utc":true},{"year":1998,"month":1,"date":1,"utc":true},{"year":2000,"month":1,"date":1,"utc":true},{"year":2002,"month":1,"date":1,"utc":true},{"year":2004,"month":1,"date":1,"utc":true},{"year":2006,"month":1,"date":1,"utc":true},{"year":2008,"month":1,"date":1,"utc":true},{"year":2010,"month":1,"date":1,"utc":true}],
   "labelFont": "Liberation Sans", "labelFontSize": 22, "labelColor": "black", "tickSize": 8, "labelPadding": 17,
   "grid": false, "domainColor": "#868686", "tickColor": "#868686", "domainWidth": 1.5, "tickWidth": 1.5, "labelOverlap": false}},
 "y": {"field": "v", "type": "quantitative",
  "scale": {"type": "log", "domain": [1000, 100000], "nice": false},
  "axis": {"title": null, "values": [1000, 10000, 100000], "format": ",", "labelFont": "Lato", "labelFontSize": 22, "labelColor": "black",
   "tickSize": 9, "labelPadding": 18, "grid": true, "gridColor": "#868686", "gridWidth": 1.5, "domainColor": "#868686", "tickColor": "#868686", "domainWidth": 1.5, "tickWidth": 1.5}},
 "color": {"field": "s", "type": "nominal",
  "scale": {"domain": ["MA10x75", "MA10x100", "MA10x125", "MA10x150", "MA10x175", "MA10x200"], "range": ["#4A7EBB", "#BE4B48", "#98B954", "#7D60A0", "#46AAC5", "#F69240"]},
  "legend": {"orient": "none", "legendX": 14, "legendY": 78, "title": null, "symbolType": "stroke", "symbolSize": 2800, "symbolStrokeWidth": 3.5,
   "clipHeight": 22, "labelFont": "Lato", "labelFontSize": 23, "labelColor": "black", "rowPadding": 7.9, "labelOffset": 5, "padding": 0}}
}
}
